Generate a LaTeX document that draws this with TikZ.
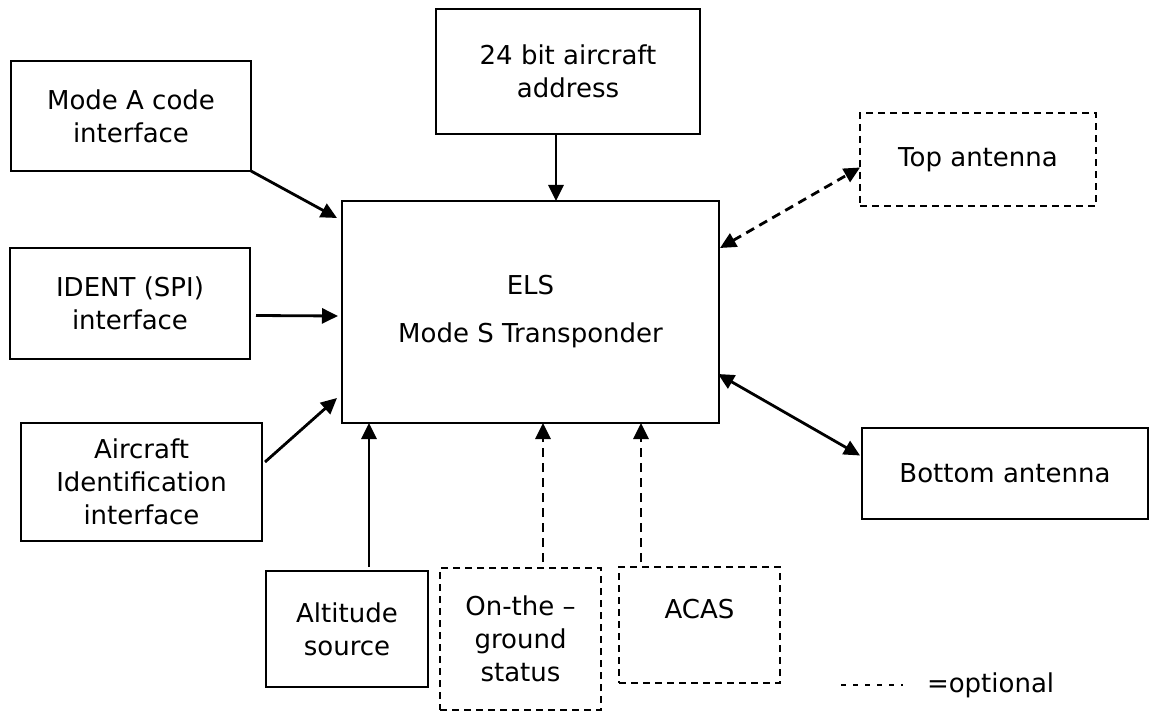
\documentclass[tikz,border=0pt]{standalone}
\usepackage{fontspec}
\setmainfont{DejaVu Sans}
\usetikzlibrary{arrows.meta,calc,positioning}

\begin{document}
\begin{tikzpicture}[x=0.5pt,y=-0.5pt,inner sep=0,outer sep=0,
    font=\fontsize{13}{16.5}\selectfont,
    box/.style={draw=black,line width=1.2pt,align=center,fill=white},
    optbox/.style={box,dash pattern=on 3.5pt off 2.5pt},
    arr/.style={line width=1.4pt,-{Triangle[length=8pt,width=7.5pt]}},
    optarr/.style={arr,dash pattern=on 4.5pt off 3pt}]

   \useasboundingbox (0,0) rectangle (1157,711);

   % The transponder
   \node[box,minimum width=188.5pt,minimum height=111pt] (els) at (530.5,312) {ELS\\[7.5pt]Mode S Transponder};

   % Inputs on the left and on top
   \node[box,minimum width=132pt,minimum height=62.5pt] (addr) at (568,71.5) {24 bit aircraft\\address};
   \node[box,minimum width=120pt,minimum height=55pt] (modea) at (131,116) {Mode A code\\interface};
   \node[box,minimum width=120pt,minimum height=55.5pt] (ident) at (130,303.5) {IDENT (SPI)\\interface};
   \node[box,minimum width=120.5pt,minimum height=59pt] (acid) at (141.5,482) {Aircraft\\Identification\\interface};

   % Inputs below
   \node[box,minimum width=81pt,minimum height=58pt] (alt) at (347,629) {Altitude\\source};
   \node[optbox,minimum width=80.5pt,minimum height=71pt] (ground) at (520.5,639) {On-the –\\ground\\status};
   \node[optbox,minimum width=80.5pt,minimum height=58pt] (acas) at (699.5,625) {ACAS\\\mbox{}};

   % Antennas
   \node[optbox,minimum width=118pt,minimum height=46.5pt] (topant) at (978,159.5) {Top antenna};
   \node[box,minimum width=143pt,minimum height=45.5pt] (botant) at (1005,473.5) {Bottom antenna};

   % Arrows into the transponder
   \draw[arr] ([xshift=-6pt]addr.south) -- ([xshift=-6pt]addr.south |- els.north);
   \draw[arr] (modea.south east) -- ([shift={(-2.5pt,-8.5pt)}]els.north west);
   \draw[arr] ([xshift=3pt,yshift=-6pt]ident.east) -- ([xshift=-2pt,yshift=-2pt]els.west);
   \draw[arr] ([xshift=1.5pt,yshift=10pt]acid.east) -- ([xshift=-2.5pt,yshift=12.5pt]els.south west);
   \draw[arr] ([xshift=11pt,yshift=2pt]alt.north) -- ([xshift=11pt]alt.north |- els.south);
   \draw[optarr] ([xshift=11.25pt,yshift=3pt]ground.north) -- ([xshift=11.25pt]ground.north |- els.south);
   \draw[optarr] ([xshift=-29.25pt,yshift=2.5pt]acas.north) -- ([xshift=-29.25pt]acas.north |- els.south);

   % Antenna links
   \draw[optarr,{Triangle[length=8pt,width=7.5pt]}-{Triangle[length=8pt,width=7.5pt]}] ([xshift=0.5pt,yshift=-23.5pt]els.north east) -- ([yshift=-4pt]topant.west);
   \draw[arr,{Triangle[length=8pt,width=7.5pt]}-{Triangle[length=8pt,width=7.5pt]}] ([xshift=-0.5pt,yshift=-31pt]els.east) -- ([xshift=-1pt,yshift=9pt]botant.west);

   % Legend
   \node[anchor=west] (optional) at (927,685) {=optional};
   \coordinate (dashstart) at (841,685);
   \draw[line width=0.6pt,dash pattern=on 2.5pt off 3.5pt] (dashstart) -- ([xshift=-12pt]optional.west);

\end{tikzpicture}
\end{document}
